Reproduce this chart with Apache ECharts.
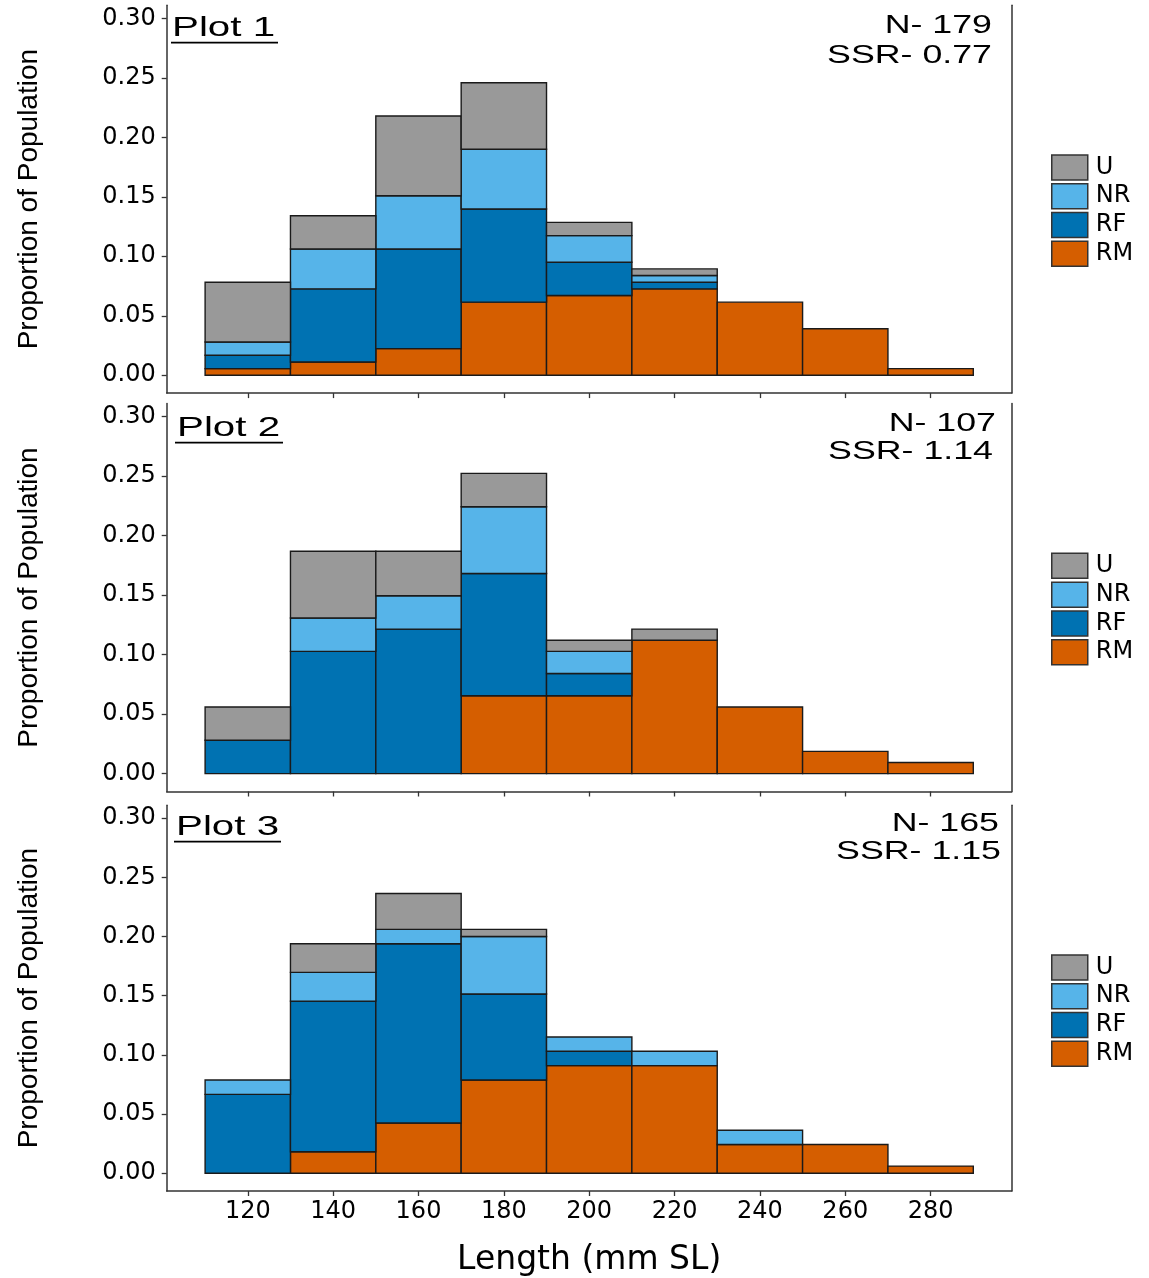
<!DOCTYPE html>
<html>
<head>
<meta charset="utf-8">
<script src="https://cdn.jsdelivr.net/npm/echarts@6/dist/echarts.min.js"></script>
<style>
html,body{margin:0;padding:0;background:#fff;}
#c{width:1149px;height:1278px;}
</style>
</head>
<body>
<div id="c"></div>
<script>
// ---------- data ----------
const binEdges = [110, 130, 150, 170, 190, 210, 230, 250, 270, 290];
const xTickLabels = [120, 140, 160, 180, 200, 220, 240, 260, 280];
const yTickLabels = [0, 0.05, 0.10, 0.15, 0.20, 0.25, 0.30];
const legendGroups = ['U', 'NR', 'RF', 'RM'];
const stackOrder = ['RM', 'RF', 'NR', 'U'];
const plotNames = ['Plot 1', 'Plot 2', 'Plot 3'];
const sampleSizes = [179, 107, 165];
const ssrValues = ['0.77', '1.14', '1.15'];

// counts per length bin (proportion = count / N)
const plot1RM = [1, 2, 4, 11, 12, 13, 11, 7, 1];
const plot1RF = [2, 11, 15, 14, 5, 1, 0, 0, 0];
const plot1NR = [2, 6, 8, 9, 4, 1, 0, 0, 0];
const plot1U  = [9, 5, 12, 10, 2, 1, 0, 0, 0];

const plot2RM = [0, 0, 0, 7, 7, 12, 6, 2, 1];
const plot2RF = [3, 11, 13, 11, 2, 0, 0, 0, 0];
const plot2NR = [0, 3, 3, 6, 2, 0, 0, 0, 0];
const plot2U  = [3, 6, 4, 3, 1, 1, 0, 0, 0];

const plot3RM = [0, 3, 7, 13, 15, 15, 4, 4, 1];
const plot3RF = [11, 21, 25, 12, 2, 0, 0, 0, 0];
const plot3NR = [2, 4, 2, 8, 2, 2, 2, 0, 0];
const plot3U  = [0, 4, 5, 1, 0, 0, 0, 0, 0];

// ---------- styles / layout ----------
const groupColors = { U: '#999999', NR: '#56B4E9', RF: '#0072B2', RM: '#D55E00' };
const counts = [
  { RM: plot1RM, RF: plot1RF, NR: plot1NR, U: plot1U },
  { RM: plot2RM, RF: plot2RF, NR: plot2NR, U: plot2U },
  { RM: plot3RM, RF: plot3RF, NR: plot3NR, U: plot3U }
];
const gridLeft = 166.7, gridWidth = 845, gridHeight = 387.9;
const layout = [
  { top: 5.2,   plotX: 172, plotY: 28.3, ulY: 42.7,  ulX0: 171, ulX1: 278, nX: 992, nY: 25.8,  sX: 992,  sY: 55.8 },
  { top: 403.6, plotX: 177, plotY: 428.5, ulY: 442.7, ulX0: 175, ulX1: 283, nX: 996, nY: 424.5, sX: 993,  sY: 451.7 },
  { top: 805.2, plotX: 176, plotY: 827,  ulY: 841.7, ulX0: 174, ulX1: 281, nX: 999, nY: 824.5, sX: 1001, sY: 852.3 }
];
const axisColor = '#333';
const textColor = '#000';
const labelFont = 'DejaVu Sans';

function renderItem(params, api) {
  const p0 = api.coord([api.value(0), api.value(3)]);
  const p1 = api.coord([api.value(1), api.value(2)]);
  return {
    type: 'rect',
    shape: { x: p0[0], y: p0[1], width: p1[0] - p0[0], height: p1[1] - p0[1] },
    style: { fill: api.visual('color'), stroke: '#1a1a1a', lineWidth: 1.4 }
  };
}

const grids = [], xAxes = [], yAxes = [], series = [], legends = [], graphics = [];

layout.forEach((L, p) => {
  grids.push({ left: gridLeft, width: gridWidth, top: L.top, height: gridHeight });
  const last = p === layout.length - 1;
  xAxes.push({
    type: 'value', gridIndex: p, min: 101, max: 299,
    axisLine: { show: true, onZero: false, lineStyle: { color: axisColor, width: 1.5 } },
    axisTick: { show: true, length: 5, customValues: xTickLabels, lineStyle: { color: axisColor, width: 1.3 } },
    axisLabel: { show: last, customValues: xTickLabels, margin: 9, fontFamily: labelFont, fontSize: 24, color: textColor },
    splitLine: { show: false },
    name: last ? 'Length (mm SL)' : '', nameLocation: 'middle', nameGap: 53,
    nameTextStyle: { fontFamily: labelFont, fontSize: 33, color: textColor }
  });
  yAxes.push({
    type: 'value', gridIndex: p, min: -0.015, max: 0.311,
    axisLine: { show: true, onZero: false, lineStyle: { color: axisColor, width: 1.5 } },
    axisTick: { show: true, length: 5, customValues: yTickLabels, lineStyle: { color: axisColor, width: 1.3 } },
    axisLabel: { customValues: yTickLabels, margin: 11, fontFamily: labelFont, fontSize: 24, color: textColor,
                 formatter: v => v.toFixed(2) },
    splitLine: { show: false },
    name: 'Proportion of Population', nameLocation: 'middle', nameGap: 123,
    nameTextStyle: { fontFamily: 'Liberation Sans', fontSize: 28, color: textColor }
  });
  yAxes.push({
    type: 'value', gridIndex: p, position: 'right', min: -0.015, max: 0.311,
    axisLine: { show: true, onZero: false, lineStyle: { color: axisColor, width: 1.5 } },
    axisTick: { show: false }, axisLabel: { show: false }, splitLine: { show: false }
  });

  const c = counts[p];
  const n = sampleSizes[p];
  const cum = new Array(binEdges.length - 1).fill(0);
  stackOrder.forEach(g => {
    const data = [];
    c[g].forEach((v, i) => {
      const y0 = cum[i] / n;
      cum[i] += v;
      if (v > 0) data.push([binEdges[i], binEdges[i + 1], y0, cum[i] / n, v]);
    });
    series.push({
      type: 'custom', name: g, xAxisIndex: p, yAxisIndex: 2 * p,
      renderItem: renderItem, encode: { x: [0, 1], y: [2, 3] },
      itemStyle: { color: groupColors[g] },
      data: data
    });
  });

  legends.push({
    data: legendGroups, orient: 'vertical', left: 1051, top: L.top + 149,
    itemWidth: 36, itemHeight: 25, itemGap: 2.3, padding: 0, icon: 'rect', selectedMode: false,
    itemStyle: { borderColor: '#333', borderWidth: 1.5 },
    textStyle: { fontFamily: labelFont, fontSize: 24, color: textColor, padding: [0, 0, 0, 3], lineHeight: 25 }
  });

  graphics.push({
    type: 'text', x: L.plotX, y: L.plotY, scaleX: 1.44,
    style: { text: plotNames[p], font: '28px "Liberation Sans"', fill: textColor,
             textAlign: 'left', align: 'left', textVerticalAlign: 'middle', verticalAlign: 'middle' }
  });
  graphics.push({
    type: 'line', shape: { x1: L.ulX0, y1: L.ulY, x2: L.ulX1, y2: L.ulY },
    style: { stroke: textColor, lineWidth: 1.8 }
  });
  graphics.push({
    type: 'text', x: L.nX, y: L.nY, scaleX: 1.43,
    style: { text: 'N- ' + n, font: '25px "Liberation Sans"', fill: textColor,
             textAlign: 'right', align: 'right', textVerticalAlign: 'middle', verticalAlign: 'middle' }
  });
  graphics.push({
    type: 'text', x: L.sX, y: L.sY, scaleX: 1.43,
    style: { text: 'SSR- ' + ssrValues[p], font: '25px "Liberation Sans"', fill: textColor,
             textAlign: 'right', align: 'right', textVerticalAlign: 'middle', verticalAlign: 'middle' }
  });
});

const chart = echarts.init(document.getElementById('c'), null, { renderer: 'canvas' });
chart.setOption({
  backgroundColor: '#ffffff',
  animation: false,
  grid: grids,
  xAxis: xAxes,
  yAxis: yAxes,
  legend: legends,
  series: series,
  graphic: graphics
});
</script>
</body>
</html>
